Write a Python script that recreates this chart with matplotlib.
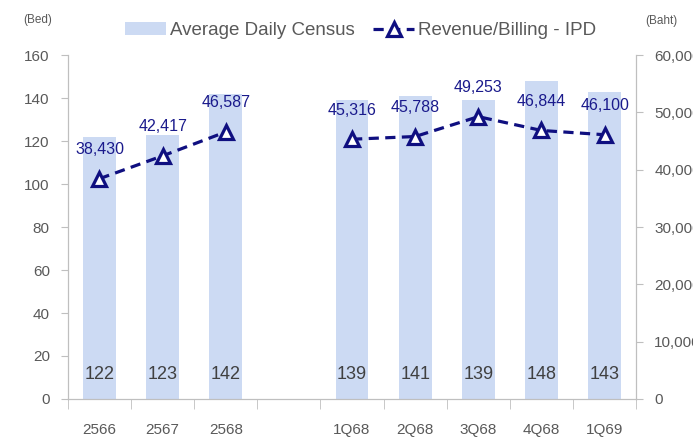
import numpy as np
import matplotlib.pyplot as plt

plt.rcParams['font.family'] = ['Liberation Sans', 'DejaVu Sans']

categories = ['2566', '2567', '2568', '', '1Q68', '2Q68', '3Q68', '4Q68', '1Q69']
census = [122, 123, 142, np.nan, 139, 141, 139, 148, 143]
revenue = [38430, 42417, 46587, np.nan, 45316, 45788, 49253, 46844, 46100]

BAR_C = '#CCDAF3'
LINE_C = '#0F0F80'
GREY = '#BFBFBF'
TXT = '#595959'

fig = plt.figure(figsize=(6.93, 4.37), dpi=100)
ax = fig.add_axes([0.098, 0.087, 0.820, 0.787])
ax2 = ax.twinx()

x = np.arange(len(categories))
bars = ax.bar(x, census, width=0.52, color=BAR_C, label='Average Daily Census', zorder=1)
for xi, v in zip(x, census):
    if not np.isnan(v):
        ax.text(xi, 11.5, f'{v:.0f}', ha='center', va='center', fontsize=13, color='#404040')

ax.set_xlim(-0.5, len(categories) - 0.5)
ax.set_ylim(0, 160)
ax.set_yticks(np.arange(0, 161, 20))
ax2.set_ylim(0, 60000)
ax2.set_yticks(np.arange(0, 60001, 10000))
ax2.set_yticklabels([f'{v:,}' if v else '0' for v in range(0, 60001, 10000)])

line, = ax2.plot(x, revenue, color=LINE_C, lw=2.3, ls=(0, (3.2, 2)), marker='^',
                 markersize=10, markerfacecolor='white', markeredgecolor=LINE_C,
                 markeredgewidth=2.3, label='Revenue/Billing - IPD', zorder=3)
for xi, v in zip(x, revenue):
    if not np.isnan(v):
        ax2.annotate(f'{v:,.0f}', (xi, v), xytext=(0, 21), textcoords='offset points',
                     ha='center', va='center', fontsize=11.5, color='#1A1A8C')

ax.set_xticks(x)
ax.set_xticklabels(categories)
ax.set_xticks(np.arange(-0.5, len(categories)), minor=True)
ax.tick_params(axis='x', which='major', length=0, pad=17, labelsize=11, labelcolor=TXT)
ax.tick_params(axis='x', which='minor', length=7, color=GREY)
ax.tick_params(axis='y', length=5, color=GREY, labelsize=11, labelcolor=TXT, pad=8)
ax2.tick_params(axis='y', length=5, color=GREY, labelsize=11, labelcolor=TXT, pad=8)

for a in (ax, ax2):
    for s in a.spines.values():
        s.set_color(GREY)
    a.spines['top'].set_visible(False)

fig.text(0.055, 0.955, '(Bed)', fontsize=8.5, color=TXT, ha='center', va='center')
fig.text(0.955, 0.952, '(Baht)', fontsize=8.5, color=TXT, ha='center', va='center')

fig.legend(handles=[bars, line], loc='center', bbox_to_anchor=(0.52, 0.93), ncol=2,
           frameon=False, fontsize=13.5, handlelength=2.2, columnspacing=1.0,
           handletextpad=0.2, labelcolor=TXT)

fig.savefig('out.png', dpi=100)
